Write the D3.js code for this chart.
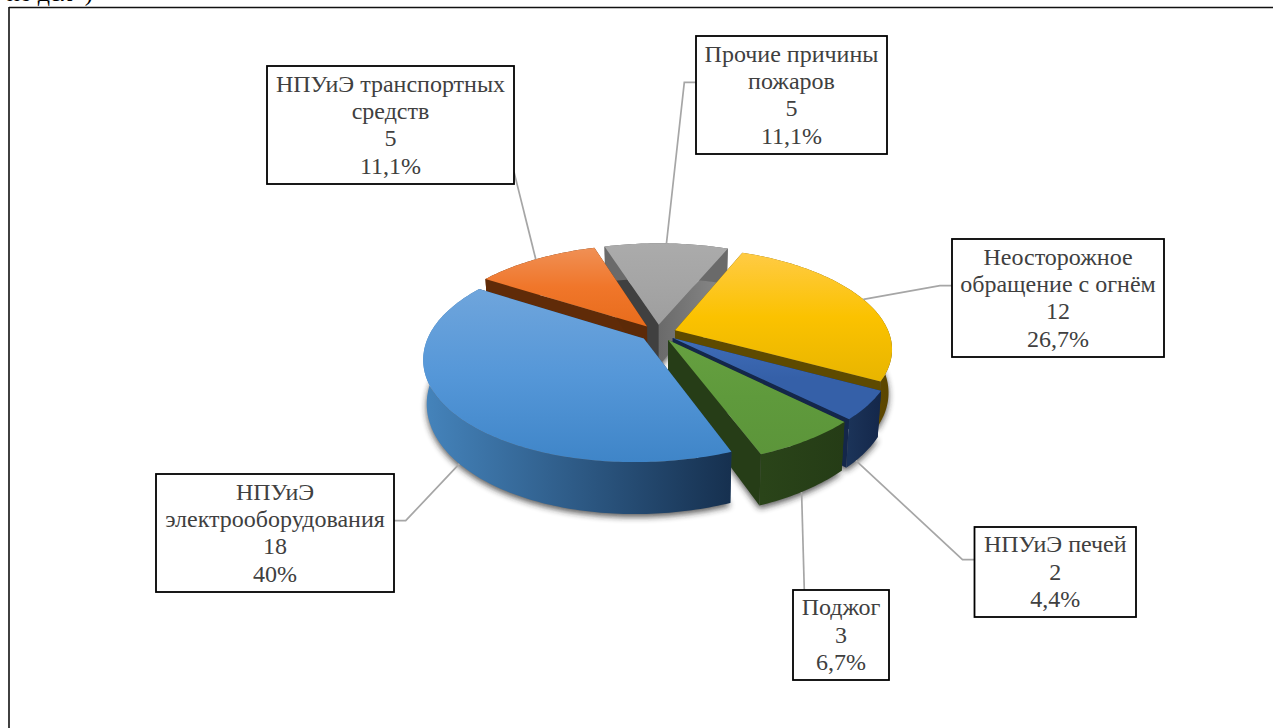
<!DOCTYPE html>
<html>
<head>
<meta charset="utf-8">
<script src="https://cdn.jsdelivr.net/npm/d3@7"></script>
<style>
html,body{margin:0;padding:0;background:#fff;overflow:hidden}
svg{display:block}
text{font-family:"Liberation Serif",serif}
</style>
</head>
<body>
<svg id="c" width="1273" height="728"></svg>
<script>
// ---- data ----
const categories = ["Неосторожное обращение с огнём","НПУиЭ печей","Поджог","НПУиЭ электрооборудования","НПУиЭ транспортных средств","Прочие причины пожаров"];
const values = [12,2,3,18,5,5];
const percentLabels = ["26,7%","4,4%","6,7%","40%","11,1%","11,1%"];
const labelLines = [["Неосторожное","обращение с огнём"],["НПУиЭ печей"],["Поджог"],["НПУиЭ","электрооборудования"],["НПУиЭ транспортных","средств"],["Прочие причины","пожаров"]];
// ---- styling ----
const topGradients = [["#FFCB45","#FBC200","#E8B500"],["#3F6DB8","#3560A8","#3560A8"],["#66A040","#5F9A3C","#5C953A"],["#6FA5DC","#5597D8","#3F85C8"],["#F09055","#F0762A","#E86C1C"],["#ABABAB","#A5A5A5","#9E9E9E"]];
const outerWalls = [["#7F6000","#5A4500"],["#1B3358","#14274A"],["#2A4419","#253C16"],["#4584BC","#16304F"],["#602B08","#602B08"],["#6A6A6A","#6A6A6A"]];
const startWalls = ["#5E4A00","#14274A","#263D17","#1A3A5C","#602B08","#404040"];
const endWalls = [["#5E4A00"],["#14274A"],["#263D17"],["#1A3A5C"],["#5C2A08"],["#6A6A6A","#8A8A8A"]];
const drawOrder = [5,4,0,1,2,3];
// ---- layout ----
const boxes = [[952,239,1164,357],[974.5,527,1136,617],[793,590,889,680],[156,474,394,592],[267,66,514,184],[696,36,887,154]];
const leaderElbows = [[[952,285.7],[940,285.7]],[[974.5,559.7],[962.5,559.7]],[[804.3,590]],[[394,520.7],[405.7,520.7]],[[514,172]],[[696,82.3],[684.3,82.3]]];
const leaderOnBase = [false,true,true,true,false,false];
const leaderShiftDeg = [0,4,1,-2.5,0,0];
const cx=658, cy=333, R=214, kR=99, persp=0.182, D=42, explode=0.085, baseScale=0.985, startDeg=22.5, skew=3.5;

const svg=d3.select("#c");
const defs=svg.append("defs");
defs.append("filter").attr("id","shadow").attr("x","-20%").attr("y","-20%").attr("width","140%").attr("height","140%")
  .append("feGaussianBlur").attr("stdDeviation",3.2);

const rad=Math.PI/180;
const pie=d3.pie().sort(null).value(d=>d).startAngle(startDeg*rad).endAngle((startDeg+360)*rad);
const arcs=pie(values);
const x=d3.scaleLinear().domain([-1,1]).range([cx-R,cx+R]);
const y=d3.scaleLinear().domain([-1,1]).range([cy-kR,cy+kR]);
function project(X,Y,base){
  const p=1/(1-persp*Y), front=Math.max(0,Y*p);
  const px=x(X*p)-skew*front*front;
  if(!base) return [px,y(Y*p)];
  return [cx+(px-cx)*baseScale,y(Y*p)+D*p];
}
const line=d3.line();
const topPath=pts=>line(pts)+"Z";

arcs.forEach(a=>{a.mid=(a.startAngle+a.endAngle)/2; a.ox=explode*Math.sin(a.mid); a.oy=-explode*Math.cos(a.mid);});
const pt=(a,ang,base,rr=1)=>project(a.ox+rr*Math.sin(ang),a.oy-rr*Math.cos(ang),base);
const arcPts=(a,base)=>d3.range(a.startAngle,a.endAngle,1*rad).concat([a.endAngle]).map(t=>pt(a,t,base));

function grad(id,stops,x1,y1,x2,y2){
  const g=defs.append("linearGradient").attr("id",id).attr("gradientUnits","userSpaceOnUse")
    .attr("x1",x1).attr("y1",y1).attr("x2",x2).attr("y2",y2);
  stops.forEach((c,i)=>g.append("stop").attr("offset",stops.length>1?i/(stops.length-1):0).attr("stop-color",c));
  return `url(#${id})`;
}

// frame and clipped heading
svg.append("line").attr("x1",9).attr("y1",7.5).attr("x2",1273).attr("y2",7.5).attr("stroke","#111").attr("stroke-width",1.6);
svg.append("line").attr("x1",9).attr("y1",7).attr("x2",9).attr("y2",728).attr("stroke","#111").attr("stroke-width",1.6);
svg.append("text").attr("x",7).attr("y",1).attr("font-size",24).attr("fill","#000").text("но дел»)");

// shadow
const shadow=svg.append("g").attr("filter","url(#shadow)").attr("opacity",0.75);
arcs.forEach(a=>{
  const b=arcPts(a,true);
  shadow.append("path").attr("d",topPath([pt(a,a.startAngle,true,0)].concat(b))).attr("fill","#222").attr("transform","translate(0,3)");
});

// slices, back to front
drawOrder.forEach(i=>{
  const a=arcs[i], g=svg.append("g").attr("class","slice");
  const topPts=arcPts(a,false), baseArc=arcPts(a,true);
  const apexT=pt(a,0,false,0), apexB=pt(a,0,true,0);
  const sT=topPts[0], eT=topPts[topPts.length-1], sB=baseArc[0], eB=baseArc[baseArc.length-1];
  const xs=topPts.map(d=>d[0]), ys=topPts.concat([apexT]).map(d=>d[1]);
  g.append("path").attr("d",topPath([apexT,sT,sB,apexB])).attr("fill",startWalls[i]);
  const ew=endWalls[i].length>1?grad("ew"+i,endWalls[i],apexT[0],0,eT[0],0):endWalls[i][0];
  g.append("path").attr("d",topPath([apexT,eT,eB,apexB])).attr("fill",ew);
  g.append("path").attr("d",topPath(topPts.concat(baseArc.slice().reverse())))
    .attr("fill",grad("ow"+i,outerWalls[i],d3.min(xs),0,d3.max(xs),0));
  g.append("path").attr("d",topPath([apexT].concat(topPts)))
    .attr("fill",grad("tp"+i,topGradients[i],0,d3.min(ys),0,d3.max(ys)));
});

// leaders
arcs.forEach((a,i)=>{
  const end=pt(a,a.mid+leaderShiftDeg[i]*rad,leaderOnBase[i]);
  svg.append("path").attr("d",line(leaderElbows[i].concat([end]))).attr("fill","none").attr("stroke","#A6A6A6").attr("stroke-width",1.7);
});

// labels
boxes.forEach((b,i)=>{
  svg.append("rect").attr("x",b[0]).attr("y",b[1]).attr("width",b[2]-b[0]).attr("height",b[3]-b[1])
    .attr("fill","#fff").attr("stroke","#000").attr("stroke-width",1.8);
  const lines=labelLines[i].concat([String(values[i]),percentLabels[i]]);
  const lh=27.4, mx=(b[0]+b[2])/2, my=(b[1]+b[3])/2;
  lines.forEach((s,j)=>{
    svg.append("text").attr("x",mx).attr("y",my+(j-(lines.length-1)/2)*lh+7.6)
      .attr("text-anchor","middle").attr("font-size",24).attr("fill","#404040").text(s);
  });
});
</script>
</body>
</html>
